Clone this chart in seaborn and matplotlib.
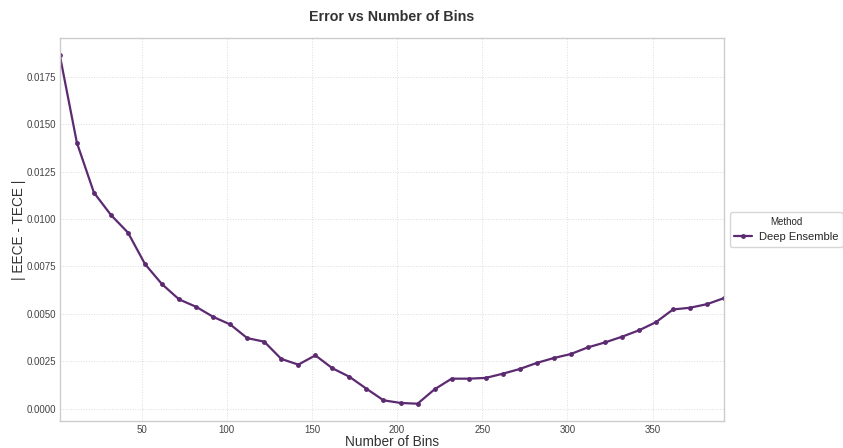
import numpy as np
import pandas as pd
import matplotlib
matplotlib.use("Agg")
import matplotlib.pyplot as plt
import seaborn as sns

# Bin counts and |EECE - TECE|
num_bins = [2, 12, 22, 32, 42, 52, 62, 72, 82, 92,
            102, 112, 122, 132, 142, 152, 162, 172, 182, 192,
            202, 212, 222, 232, 242, 252, 262, 272, 282, 292,
            302, 312, 322, 332, 342, 352, 362, 372, 382, 392]
error = [0.01862, 0.01402, 0.01139, 0.01021, 0.00928, 0.00762, 0.00656, 0.00576, 0.00537, 0.00484,
         0.00444, 0.00372, 0.00353, 0.00262, 0.00232, 0.00281, 0.00213, 0.00168, 0.00105, 0.00044,
         0.00030, 0.00026, 0.00102, 0.00158, 0.00158, 0.00162, 0.00184, 0.00209, 0.00241, 0.00267,
         0.00288, 0.00323, 0.00349, 0.00379, 0.00413, 0.00456, 0.00523, 0.00532, 0.00551, 0.00583]
method = ["Deep Ensemble"] * len(num_bins)

df = pd.DataFrame({"Number of Bins": num_bins, "error": error, "Method": method})

sns.set_theme(style="whitegrid")
plt.rcParams['font.family'] = ['Liberation Sans', 'DejaVu Sans']

fig, ax = plt.subplots(figsize=(8.43, 4.48), dpi=100)
fig.subplots_adjust(left=0.071, right=0.859, top=0.915, bottom=0.06)

sns.lineplot(data=df, x="Number of Bins", y="error", hue="Method",
             palette=["#5c2a70"], marker="o", markersize=3.5, markeredgewidth=0,
             linewidth=1.6, ax=ax)

ax.set_xlim(2, 392)
ax.set_xticks([50, 100, 150, 200, 250, 300, 350])
ax.set_title("Error vs Number of Bins", fontsize=10.3, fontweight="bold", color="#333333", pad=12)
ax.set_xlabel("Number of Bins", fontsize=9.8, color="#333333", labelpad=0)
ax.set_ylabel("| EECE - TECE |", fontsize=9.8, color="#333333", labelpad=0)
ax.tick_params(axis="both", labelsize=7, colors="#444444", length=0, pad=3)
ax.grid(True, linestyle=":", linewidth=0.7, color="#dddddd")
for s in ax.spines.values():
    s.set_color("#cccccc")
    s.set_linewidth(1)

leg = ax.legend(title="Method", loc="center left", bbox_to_anchor=(1.0, 0.5),
                fontsize=8, title_fontsize=7, frameon=True, handlelength=1.6,
                handletextpad=0.6, borderpad=0.4)
leg.get_frame().set_edgecolor("#cccccc")

fig.savefig("out.png", dpi=100)
